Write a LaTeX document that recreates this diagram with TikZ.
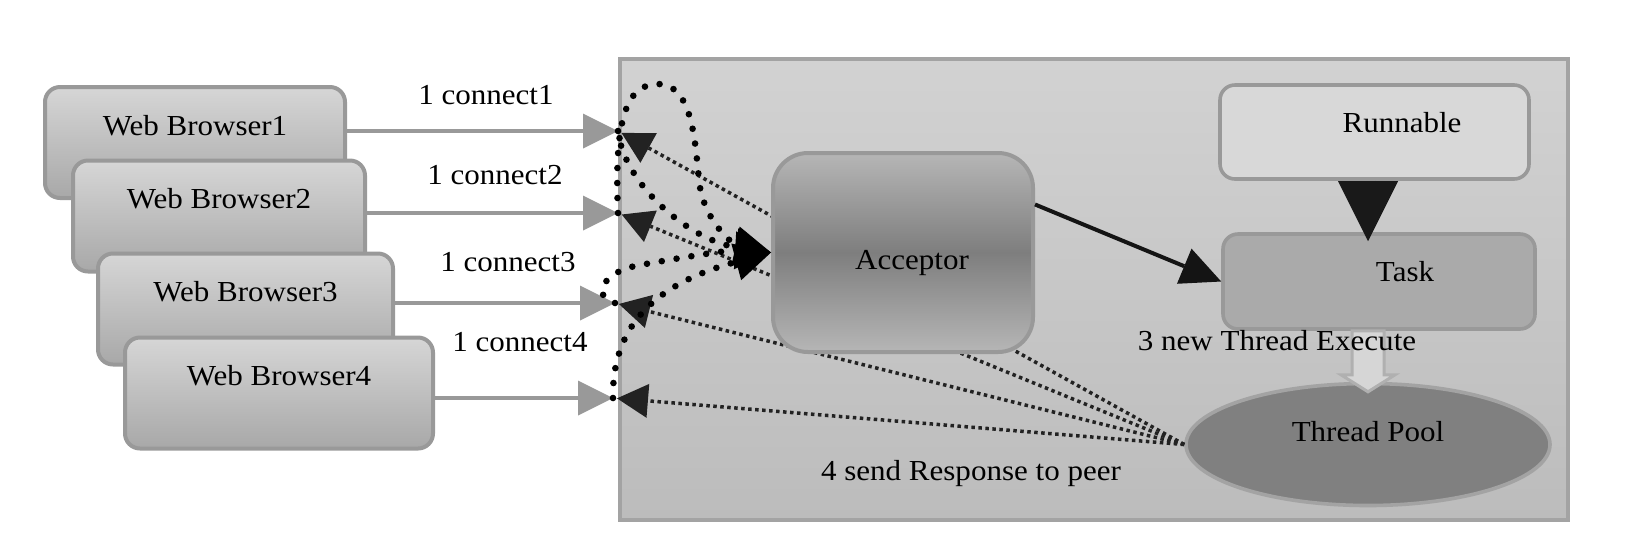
\documentclass[tikz,border=0pt]{standalone}
\usepackage{fontspec}
\setmainfont{Liberation Serif}[FakeStretch=1.07]
\usetikzlibrary{arrows.meta,shapes.geometric,calc}
\definecolor{boxtop}{RGB}{214,214,214}
\definecolor{boxbot}{RGB}{168,168,168}
\definecolor{servertop}{RGB}{210,210,210}
\definecolor{serverbot}{RGB}{188,188,188}
\definecolor{accedge}{RGB}{182,182,182}
\definecolor{accmid}{RGB}{126,126,126}
\definecolor{runfill}{RGB}{216,216,216}
\definecolor{taskfill}{RGB}{170,170,170}
\definecolor{poolfill}{RGB}{128,128,128}
\definecolor{edgegray}{RGB}{153,153,153}
\definecolor{replydark}{RGB}{34,34,34}
\definecolor{hollowfill}{RGB}{214,214,214}
\definecolor{hollowedge}{RGB}{176,176,176}
\begin{document}
\begin{tikzpicture}[x=0.5pt, y=-0.5pt,
  font=\fontsize{14.5pt}{17pt}\selectfont,
  browser/.style={draw=edgegray, line width=2pt, rounded corners=7.5pt,
    top color=boxtop, bottom color=boxbot, minimum height=55.5pt,
    text height=11pt, text depth=18.5pt},
  workbox/.style={draw=edgegray, line width=1.8pt, rounded corners=7.5pt,
    minimum width=155pt, minimum height=47pt, text height=11pt, text depth=11pt},
  connect/.style={draw=edgegray, line width=2pt,
    -{Triangle[length=17.5pt,width=17.5pt,line width=0pt]}},
  reply/.style={draw=replydark, line width=1.75pt, dash pattern=on 1.75pt off 1.75pt,
    -{Triangle[length=15.5pt,width=17pt,line width=0pt]}, shorten >=2pt},
  accept/.style={black, line width=3.3pt, dash pattern=on 0pt off 7.5pt, line cap=round,
    -{Triangle[length=18pt,width=19pt,line width=0pt]}},
  lbl/.style={text height=10pt, text depth=0pt, inner sep=0pt}]
\useasboundingbox (0,0) rectangle (1632,548);
% server side
\draw[draw=edgegray!90, line width=2pt, top color=servertop, bottom color=serverbot]
  (620,59) rectangle (1568,520);
% browsers
\node[browser, minimum width=150pt] (wb1) at (195,142.5) {Web Browser1};
\node[browser, minimum width=146pt] (wb2) at (219,216) {Web Browser2};
\node[browser, minimum width=147.5pt] (wb3) at (245.5,309) {Web Browser3};
\node[browser, minimum width=154pt] (wb4) at (279,393) {Web Browser4};
\coordinate (c1) at (618,131);
\coordinate (c2) at (618,213);
\coordinate (c3) at (615,303);
\coordinate (c4) at (613,398);
\draw[connect] (wb1.east |- c1) -- (c1);
\draw[connect] (wb2.east |- c2) -- (c2);
\draw[connect] (wb3.east |- c3) -- (c3);
\draw[connect] (wb4.east |- c4) -- (c4);
\node[lbl] (con1) at (486,94) {1 connect1};
\node[lbl] (con2) at (495,174) {1 connect2};
\node[lbl] (con3) at (508,261) {1 connect3};
\node[lbl] (con4) at (520,341) {1 connect4};
% runnable, task, pool
\node[workbox, fill=runfill, minimum width=154.5pt] (runnable) at (1374.5,132) {\hspace*{27.5pt}Runnable};
\node[workbox, fill=taskfill, minimum width=156pt, minimum height=47.5pt] (task) at (1379,281.5) {\hspace*{26pt}Task};
\draw[black!90, line width=7.5pt, -{Triangle[length=30pt,width=30pt,line width=0pt]}]
  ($(runnable.south)+(-6.5,0)$) -- ($(task.north)+(-11,9)$);
\node[ellipse, draw=edgegray!90, line width=1.8pt, fill=poolfill, minimum width=182pt,
  minimum height=61pt, text height=11pt, text depth=14.5pt] (pool) at (1368,444.5) {Thread Pool};
\coordinate (execbase) at ($(task.south)+(-11,0)$);
\draw[draw=hollowedge, fill=hollowfill, line width=1.5pt, line join=miter]
  ($(execbase)+(-16,0)$) -- ++(32,0) -- ++(0,44) -- ++(11,0) -- ++(-27,17)
  -- ++(-27,-17) -- ++(11,0) -- cycle;
\node[lbl] (execlbl) at (1277,340) {3 new Thread Execute};
% responses
\draw[reply] (pool.west) -- (c1);
\draw[reply] (pool.west) -- (c2);
\draw[reply] (pool.west) -- (c3);
\draw[reply] (pool.west) -- (c4);
\node[lbl] (resplbl) at (971,470) {4 send Response to peer};
% acceptor
\node[draw=edgegray, line width=2pt, rounded corners=17.5pt, top color=accedge,
  bottom color=accedge, middle color=accmid, minimum width=130pt, minimum height=99.5pt,
  text height=17pt, text depth=0pt] (acceptor) at (903,252.5) {\hspace*{9pt}Acceptor};
\draw[black!92, line width=2pt, -{Triangle[length=20pt,width=19pt,line width=0pt]}]
  (acceptor.20) -- (task.west);
\draw[accept] (c1) .. controls (624,185) and (690,240) .. (acceptor.west);
\draw[accept] (c2) .. controls (614,120) and (626,84) .. (658,84)
  .. controls (692,84) and (695,140) .. (699,180)
  .. controls (703,222) and (735,245) .. (acceptor.west);
\draw[accept] (c3) .. controls (592,298) and (600,272) .. (640,265)
  .. controls (690,256) and (730,250) .. (acceptor.west);
\draw[accept] (c4) .. controls (612,330) and (650,285) .. (acceptor.west);
\end{tikzpicture}
\end{document}
